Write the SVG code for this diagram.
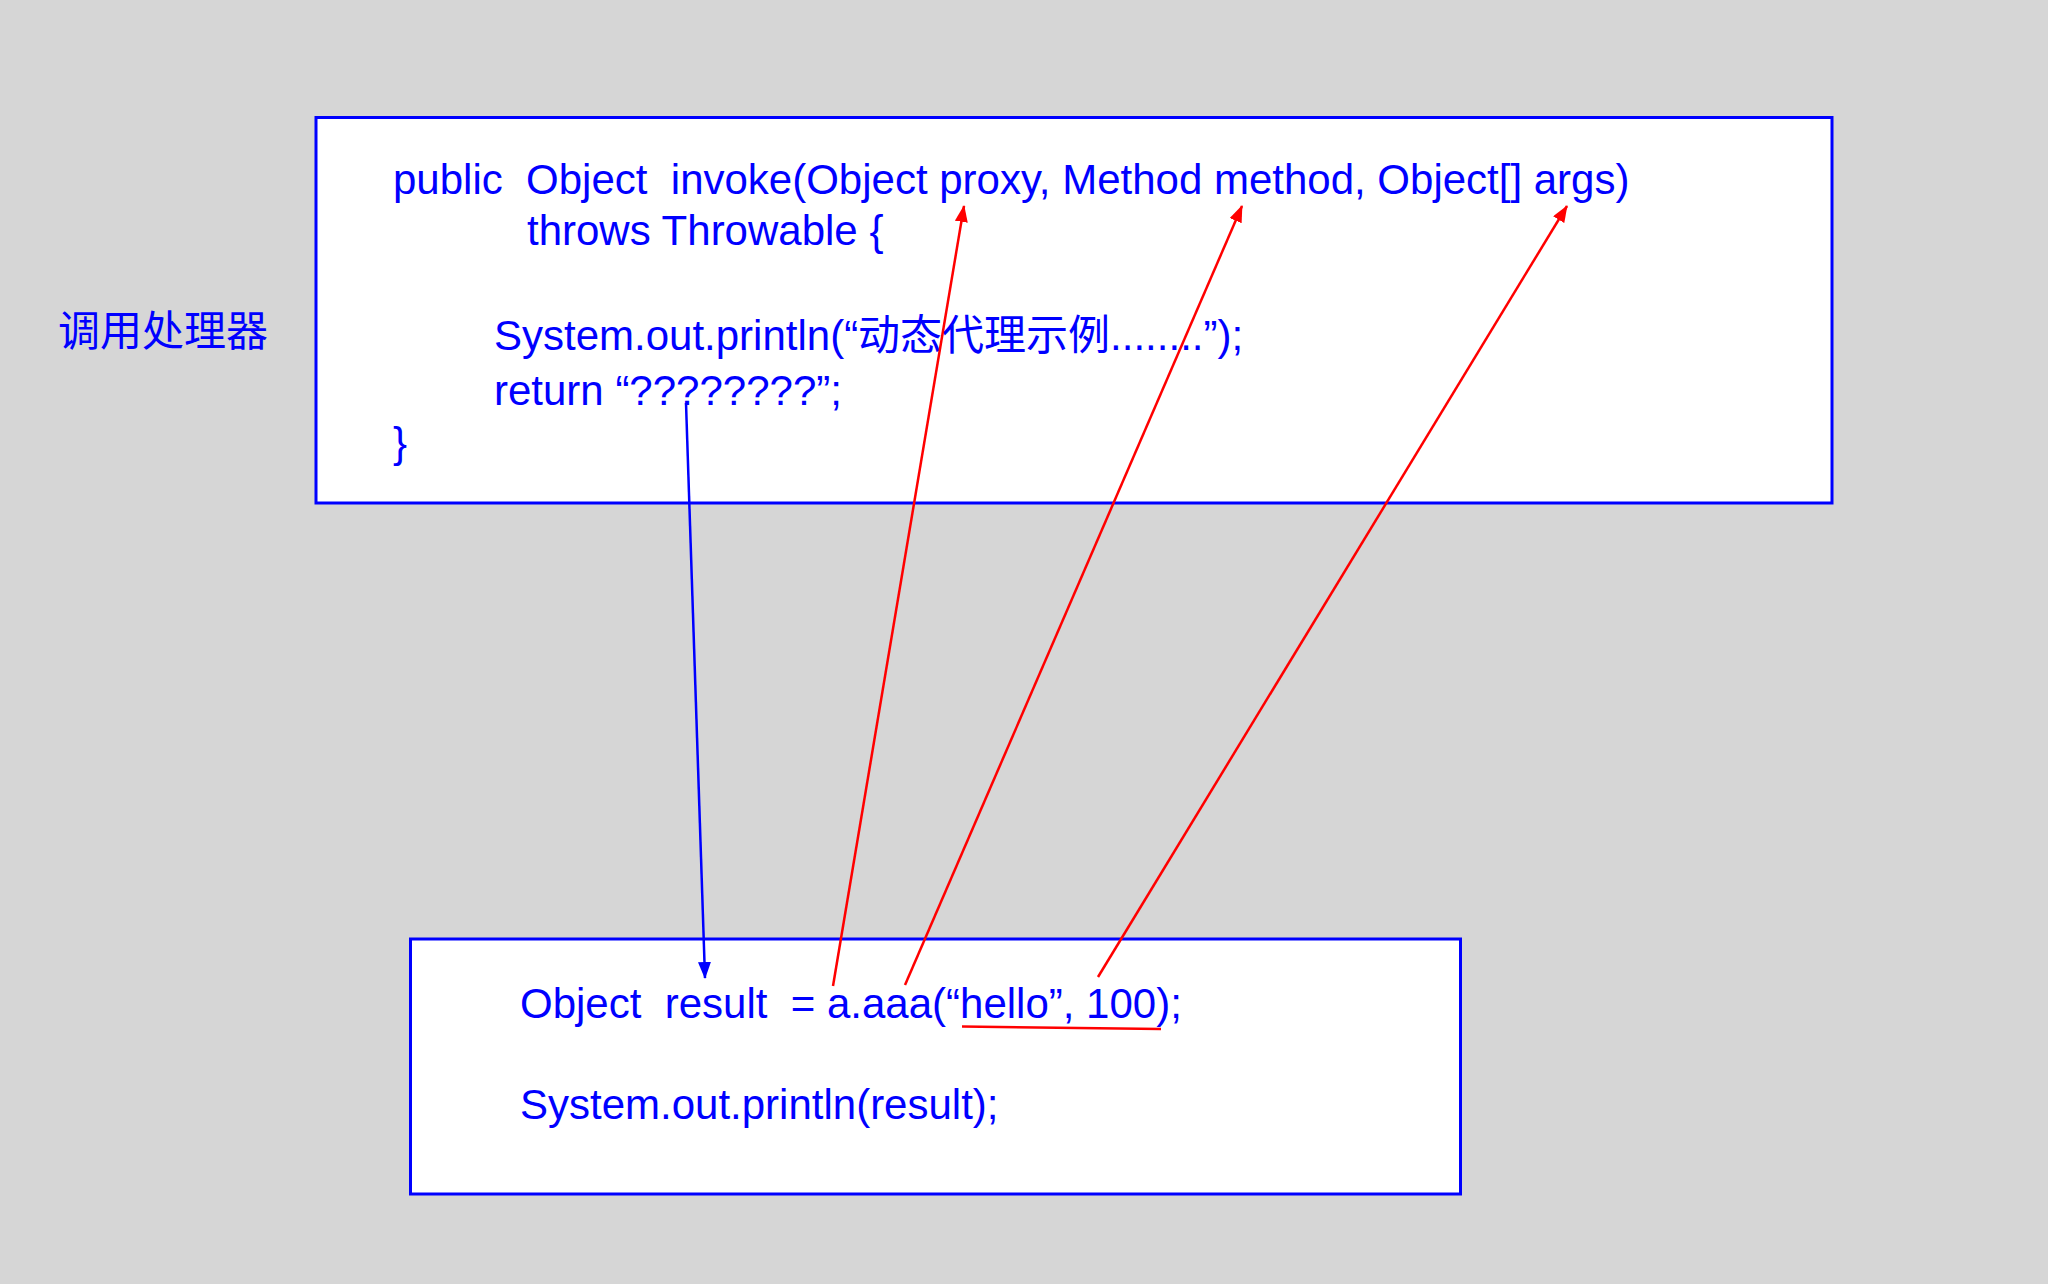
<svg xmlns="http://www.w3.org/2000/svg" width="2048" height="1284" viewBox="0 0 2048 1284">
  <style>
    .box { fill: #ffffff; stroke: #0000ff; stroke-width: 3; }
    .code { font-family: "Liberation Sans", "Noto Sans CJK SC", sans-serif; font-size: 42px; fill: #0000ff; white-space: pre; }
    .label { font-family: "Noto Sans CJK SC", "Liberation Sans", sans-serif; font-size: 42px; fill: #0000ff; }
    .red { stroke: #ff0000; stroke-width: 2.5; fill: none; }
    .blue { stroke: #0000ff; stroke-width: 2.5; fill: none; }
  </style>
  <defs>
    <marker id="ahRed" markerUnits="userSpaceOnUse" markerWidth="17" markerHeight="13" refX="16" refY="6.5" orient="auto">
      <path d="M0,0 L17,6.5 L0,13 z" fill="#ff0000"/>
    </marker>
    <marker id="ahBlue" markerUnits="userSpaceOnUse" markerWidth="17" markerHeight="13" refX="16" refY="6.5" orient="auto">
      <path d="M0,0 L17,6.5 L0,13 z" fill="#0000ff"/>
    </marker>
  </defs>
  <rect x="0" y="0" width="2048" height="1284" fill="#d6d6d6"/>

  <g id="label-handler">
    <text class="label" x="58" y="346">调用处理器</text>
  </g>

  <g id="node-invoke">
    <rect class="box" x="316" y="117.5" width="1516" height="385.5"/>
    <text class="code" x="393" y="194" xml:space="preserve">public  Object  invoke(Object proxy, Method method, Object[] args)</text>
    <text class="code" x="527" y="245">throws Throwable {</text>
    <text class="code" x="494" y="350">System.out.println(“动态代理示例........”);</text>
    <text class="code" x="494" y="405">return “????????”;</text>
    <text class="code" x="393" y="457">}</text>
  </g>

  <g id="node-caller">
    <rect class="box" x="410.5" y="939" width="1050" height="255"/>
    <text class="code" x="520" y="1018" xml:space="preserve">Object  result  = a.aaa(“hello”, 100);</text>
    <text class="code" x="520" y="1119">System.out.println(result);</text>
  </g>

  <g id="connectors">
    <line class="blue" x1="686" y1="403" x2="705" y2="978" marker-end="url(#ahBlue)"/>
    <line class="red" x1="833" y1="986" x2="964" y2="206" marker-end="url(#ahRed)"/>
    <line class="red" x1="905" y1="985" x2="1242" y2="206" marker-end="url(#ahRed)"/>
    <line class="red" x1="1098" y1="977" x2="1567" y2="206" marker-end="url(#ahRed)"/>
    <line class="red" x1="962" y1="1026.5" x2="1161" y2="1029" stroke-width="3"/>
  </g>
</svg>
